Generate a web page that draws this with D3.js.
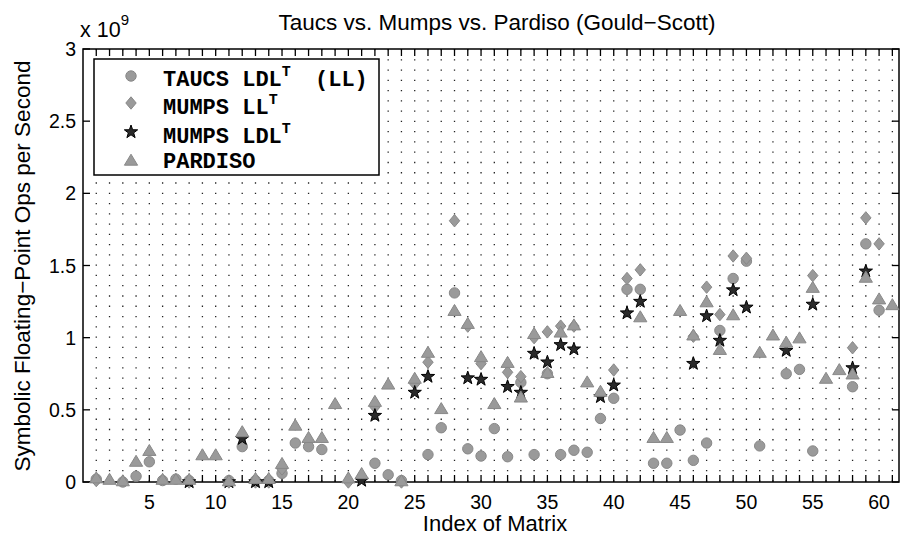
<!DOCTYPE html>
<html><head><meta charset="utf-8">
<script src="https://cdn.jsdelivr.net/npm/d3@7"></script>
<style>
html,body{margin:0;padding:0;background:#fff;}
svg{display:block;}
text{font-family:"Liberation Sans",Arial,Helvetica,sans-serif;fill:#000;}
</style></head>
<body>
<svg id="chart" width="901" height="535"></svg>
<script>
// ---- data ----
const indices = d3.range(1, 62);
const taucs = [0.02,null,0.00,0.04,0.14,0.01,0.02,0.01,null,null,
  0.01,0.245,0.01,0.01,0.06,0.27,0.245,0.225,null,null,
  null,0.13,0.05,0.01,null,0.19,0.376,1.31,0.23,0.18,
  0.37,0.175,0.69,0.19,0.75,0.19,0.22,0.206,0.44,0.58,
  1.335,1.335,0.13,0.13,0.36,0.15,0.27,1.05,1.41,1.53,
  0.25,null,0.75,0.78,0.215,null,null,0.66,1.65,1.19,null];
const mumpsLL = [0.01,null,null,null,null,null,null,0.00,null,null,
  0.00,0.32,0.00,0.00,0.09,null,null,null,null,0.00,
  0.03,0.52,null,0.00,0.68,0.83,null,1.81,1.08,0.82,
  null,0.76,0.73,1.00,1.04,1.08,1.08,null,null,0.776,
  1.41,1.47,null,null,null,1.01,1.35,1.16,1.566,1.55,
  null,null,null,null,1.43,null,null,0.93,1.83,1.65,null];
const mumpsLDL = [null,null,null,null,null,null,null,0.00,null,null,
  0.00,0.30,0.00,0.00,null,null,null,null,null,null,
  0.01,0.46,null,null,0.62,0.73,null,null,0.72,0.71,
  null,0.66,0.62,0.89,0.83,0.95,0.92,null,0.59,0.67,
  1.17,1.25,null,null,null,0.82,1.15,0.98,1.33,1.21,
  null,null,0.91,null,1.23,null,null,0.79,1.46,null,null];
const pardiso = [0.03,0.02,0.01,0.145,0.22,0.02,0.02,0.02,0.19,0.19,
  0.01,0.35,0.026,0.026,0.13,0.395,0.31,0.31,0.545,0.03,
  0.06,0.56,0.68,0.01,0.72,0.90,0.51,1.19,1.10,0.87,
  0.545,0.83,0.59,1.03,0.76,1.04,1.09,0.695,0.63,null,
  null,1.146,0.31,0.31,1.19,1.02,1.25,0.92,1.16,null,
  0.90,1.02,0.97,1.00,1.35,0.72,0.78,0.75,1.42,1.27,1.23];
const xTickLabels = [5,10,15,20,25,30,35,40,45,50,55,60];
const yTickValues = [0,0.5,1,1.5,2,2.5,3];
const yTickLabels = ["0","0.5","1","1.5","2","2.5","3"];
const seriesNames = ["TAUCS LDL","MUMPS LL","MUMPS LDL","PARDISO"];

// ---- layout ----
const L = 83, R = 899, T = 49, B = 482;
const svg = d3.select("#chart");
const x = d3.scaleLinear().domain([0, 61.5]).range([L, R]);
const y = d3.scaleLinear().domain([0, 3]).range([B, T]);

const gray = "#9a9a9a", grayEdge = "#888";
function starPath(ro, ri){
  let p = "";
  for (let k = 0; k < 10; k++){
    const r = k % 2 ? ri : ro;
    const a = -Math.PI/2 + k*Math.PI/5;
    p += (k ? "L" : "M") + (r*Math.cos(a)).toFixed(2) + "," + (r*Math.sin(a)).toFixed(2);
  }
  return p + "Z";
}
const shapes = {
  circle: "M5.2,0A5.2,5.2 0 1,1 -5.2,0A5.2,5.2 0 1,1 5.2,0Z",
  diamond: "M0,-6.2L5.2,0L0,6.2L-5.2,0Z",
  triangle: "M0,-5.8L6.6,5.2L-6.6,5.2Z",
  star: starPath(7, 2.8)
};
const styles = {
  circle: {fill: gray, stroke: grayEdge},
  diamond: {fill: gray, stroke: grayEdge},
  triangle: {fill: gray, stroke: grayEdge},
  star: {fill: "#2a2a2a", stroke: "#000"}
};

// ---- grid (dotted vertical lines) ----
svg.append("g").selectAll("line").data(indices).join("line")
  .attr("x1", d => x(d)).attr("x2", d => x(d))
  .attr("y1", B - 0.5).attr("y2", T)
  .attr("stroke", "#222").attr("stroke-width", 1.3)
  .attr("stroke-dasharray", "1.3,8.97").attr("stroke-dashoffset", -10.27);

// ---- box ----
svg.append("rect").attr("x", L).attr("y", T).attr("width", R - L).attr("height", B - T)
  .attr("fill", "none").attr("stroke", "#000").attr("stroke-width", 1.5);

// ---- ticks ----
const tk = svg.append("g").attr("stroke", "#000").attr("stroke-width", 1.3);
tk.selectAll(".xb").data(indices).join("line")
  .attr("x1", d => x(d)).attr("x2", d => x(d)).attr("y1", B).attr("y2", B - 7);
tk.selectAll(".xt").data(indices).join("line")
  .attr("x1", d => x(d)).attr("x2", d => x(d)).attr("y1", T).attr("y2", T + 7);
tk.selectAll(".yl").data(yTickValues).join("line")
  .attr("x1", L).attr("x2", L + 7).attr("y1", d => y(d)).attr("y2", d => y(d));
tk.selectAll(".yr").data(yTickValues).join("line")
  .attr("x1", R).attr("x2", R - 7).attr("y1", d => y(d)).attr("y2", d => y(d));

svg.append("g").selectAll("text").data(xTickLabels).join("text")
  .attr("x", d => x(d)).attr("y", 509).attr("text-anchor", "middle")
  .attr("font-size", 19.5).text(d => d);
svg.append("g").selectAll("text").data(yTickValues).join("text")
  .attr("x", 76).attr("y", d => y(d) + 7).attr("text-anchor", "end")
  .attr("font-size", 19.5).text((d, i) => yTickLabels[i]);

// exponent
const ex = svg.append("text").attr("x", 80).attr("y", 37).attr("font-size", 21.5);
ex.append("tspan").text("x 10");
ex.append("tspan").attr("dy", -12).attr("font-size", 15).text("9");

// title & labels
svg.append("text").attr("x", 497).attr("y", 30).attr("text-anchor", "middle")
  .attr("font-size", 22.5).text("Taucs vs. Mumps vs. Pardiso (Gould\u2212Scott)");
svg.append("text").attr("x", 495).attr("y", 531).attr("text-anchor", "middle")
  .attr("font-size", 22).text("Index of Matrix");
svg.append("text").attr("transform", "translate(30,266) rotate(-90)")
  .attr("text-anchor", "middle").attr("font-size", 22.5)
  .text("Symbolic Floating\u2212Point Ops per Second");

// ---- markers ----
const series = [
  {vals: taucs, shape: "circle"},
  {vals: mumpsLL, shape: "diamond"},
  {vals: mumpsLDL, shape: "star"},
  {vals: pardiso, shape: "triangle"}
];
series.forEach(s => {
  const pts = indices.map((d, i) => ({i: d, v: s.vals[i]})).filter(p => p.v !== null);
  svg.append("g").selectAll("path").data(pts).join("path")
    .attr("d", shapes[s.shape])
    .attr("transform", p => `translate(${x(p.i)},${y(p.v)})`)
    .attr("fill", styles[s.shape].fill).attr("stroke", styles[s.shape].stroke)
    .attr("stroke-width", 1);
});

// ---- legend ----
const lg = svg.append("g");
lg.append("rect").attr("x", 94).attr("y", 59).attr("width", 285).attr("height", 116)
  .attr("fill", "#fff").attr("stroke", "#000").attr("stroke-width", 1.5);
const legRows = [
  {shape: "circle", my: 76, ty: 86, main: seriesNames[0], sup: "T", tail: "(LL)"},
  {shape: "diamond", my: 103, ty: 114, main: seriesNames[1], sup: "T", tail: ""},
  {shape: "star", my: 132, ty: 143, main: seriesNames[2], sup: "T", tail: ""},
  {shape: "triangle", my: 160, ty: 168, main: seriesNames[3], sup: "", tail: ""}
];
legRows.forEach(r => {
  lg.append("path").attr("d", shapes[r.shape])
    .attr("transform", `translate(131,${r.my})`)
    .attr("fill", styles[r.shape].fill).attr("stroke", styles[r.shape].stroke);
  const t = lg.append("text").attr("x", 163).attr("y", r.ty)
    .style("font-family", "'Liberation Mono','Courier New',monospace")
    .attr("font-size", 22).attr("font-weight", "bold");
  t.append("tspan").text(r.main);
  if (r.sup) t.append("tspan").attr("dy", -10).attr("font-size", 15).text(r.sup);
  if (r.tail) lg.append("text").attr("x", 315).attr("y", r.ty)
    .style("font-family", "'Liberation Mono','Courier New',monospace")
    .attr("font-size", 22).attr("font-weight", "bold").text(r.tail);
});
</script>
</body></html>
